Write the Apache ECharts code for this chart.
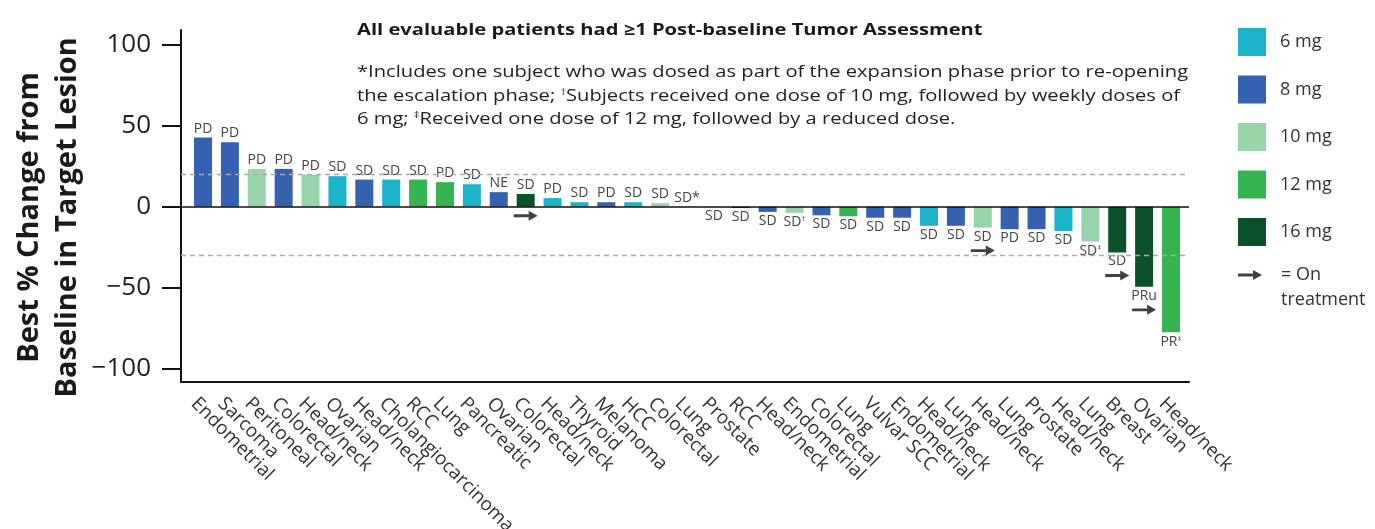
<!DOCTYPE html>
<html>
<head>
<meta charset="utf-8">
<script src="https://cdn.jsdelivr.net/npm/echarts@6/dist/echarts.min.js"></script>
<style>
html,body{margin:0;padding:0;background:#fff;}
#chart{width:1375px;height:529px;}
</style>
</head>
<body>
<div id="chart"></div>
<script>
const categories = ["Endometrial","Sarcoma","Peritoneal","Colorectal","Head/neck","Ovarian","Head/neck","Cholangiocarcinoma","RCC","Lung","Pancreatic","Ovarian","Colorectal","Head/neck","Thyroid","Melanoma","HCC","Colorectal","Lung","Prostate","RCC","Head/neck","Endometrial","Colorectal","Lung","Vulvar SCC","Endometrial","Head/neck","Lung","Head/neck","Lung","Prostate","Head/neck","Lung","Breast","Ovarian","Head/neck"];
const values = [42.8,39.9,23.4,23.4,19.9,18.9,16.8,16.8,16.8,15.2,13.9,9.0,7.9,5.3,2.8,2.8,2.8,2.2,0.1,-0.1,-0.8,-3.2,-3.8,-5.3,-5.9,-6.8,-6.8,-11.8,-11.8,-12.9,-13.9,-13.9,-15.0,-21.5,-28.3,-49.5,-77.6];
const doses = [8,8,10,8,10,6,8,6,12,12,6,8,16,6,6,8,6,10,8,8,16,8,10,8,12,8,8,6,8,10,8,8,6,10,16,16,12];
const statuses = ["PD","PD","PD","PD","PD","SD","SD","SD","SD","PD","SD","NE","SD","PD","SD","PD","SD","SD","SD*","SD","SD","SD","SD†","SD","SD","SD","SD","SD","SD","SD","PD","SD","SD","SD‡","SD","PRu","PR‡"];
const onTreatment = [12,29,34,35];
const doseLevels = [6,8,10,12,16];
const doseNames = ["6 mg","8 mg","10 mg","12 mg","16 mg"];
const doseColors = ["#1bb3c9","#3462b0","#98d4aa","#36b452","#0b522b"];
const yTicks = [-100,-50,0,50,100];
const refLines = [20,-30];

const FONT = "Open Sans";
const arrowPath = "path://M0,3.6 L15,3.6 L15,0 L24,5 L15,10 L15,6.4 L0,6.4 Z";

function fmtStatus(s){ return s.replace(/([†‡])/g, "{sup|$1}"); }

const chart = echarts.init(document.getElementById('chart'), null, {renderer:'canvas'});

const barSeries = doseLevels.map((d, k) => ({
  type: 'bar',
  name: doseNames[k],
  xAxisIndex: 1, yAxisIndex: 1,
  stack: 'all',
  barWidth: 18,
  itemStyle: { color: doseColors[k] },
  label: {
    show: true,
    distance: 2,
    fontFamily: FONT, fontSize: 14, color: '#444',
    formatter: p => fmtStatus(statuses[p.dataIndex]),
    rich: { sup: { fontFamily: FONT, fontSize: 8, color: '#444', padding: [0,0,7,0] } }
  },
  data: values.map((v, i) => doses[i] === d
    ? { value: v, label: { position: v >= 0 ? 'top' : 'bottom' } }
    : null)
}));

const option = {
  animation: false,
  textStyle: { fontFamily: FONT },
  grid: [
    { left: 181, right: 186, top: 30, bottom: 147.3, outerBoundsMode: 'none' },
    { left: 189.56, right: 190.56, top: 30, bottom: 147.3, outerBoundsMode: 'none' },
    { left: 180.56, right: 199.56, top: 30, bottom: 147.3, outerBoundsMode: 'none' }
  ],
  xAxis: [
    { type: 'value', gridIndex: 0, min: 0, max: 1, position: 'bottom',
      axisLine: { show: true, onZero: false, lineStyle: { color: '#111', width: 2 } },
      axisTick: { show: false }, axisLabel: { show: false }, splitLine: { show: false } },
    { type: 'category', gridIndex: 1, data: categories, position: 'bottom',
      axisLine: { show: false, onZero: false }, axisTick: { show: false }, axisLabel: { show: false } },
    { type: 'category', gridIndex: 2, data: categories, position: 'bottom',
      axisLine: { show: false, onZero: false }, axisTick: { show: false },
      axisLabel: { interval: 0, rotate: -45, margin: 19, fontFamily: FONT, fontSize: 19, color: '#333',
        padding: [54,0,0,0] } }
  ],
  yAxis: [
    { type: 'value', gridIndex: 0, min: -108.2, max: 109.3,
      name: 'Best % Change from\nBaseline in Target Lesion',
      nameLocation: 'middle', nameGap: 94, nameMoveOverlap: false,
      nameTextStyle: { fontFamily: FONT, fontSize: 29, fontWeight: 'bold', color: '#1a1a1a', lineHeight: 38, padding: [0,23,0,0] },
      axisLine: { show: true, onZero: false, lineStyle: { color: '#111', width: 2 } },
      axisTick: { show: true, length: 19, customValues: yTicks, lineStyle: { color: '#111', width: 2 } },
      axisLabel: { customValues: yTicks, margin: 30, fontFamily: FONT, fontSize: 26, color: '#222',
        formatter: v => String(v).replace('-', '\u2212') },
      splitLine: { show: false } },
    { type: 'value', gridIndex: 1, min: -108.2, max: 109.3, show: false,
      axisLine: { show: false }, splitLine: { show: false } },
    { type: 'value', gridIndex: 2, min: -108.2, max: 109.3, show: false,
      axisLine: { show: false }, splitLine: { show: false } }
  ],
  legend: [
    { data: doseNames, orient: 'vertical', left: 1238, top: 28, padding: 0, itemWidth: 28, itemHeight: 28, itemGap: 19.5,
      icon: 'rect', selectedMode: false,
      textStyle: { fontFamily: FONT, fontSize: 18, color: '#333', padding: [0,0,0,9] } },
    { data: ['On treatment'], orient: 'vertical', left: 1238, top: 237.5, padding: 0, itemWidth: 24, itemHeight: 10,
      selectedMode: false, formatter: () => ' \n= On\ntreatment',
      textStyle: { fontFamily: FONT, fontSize: 18, color: '#333', lineHeight: 25, padding: [0,0,0,14] } }
  ],
  graphic: [
    { type: 'text', x: 357, y: 22, scaleX: 1.258,
      style: { text: 'All evaluable patients had \u22651 Post-baseline Tumor Assessment',
        font: 'bold 16px "Open Sans"', fill: '#1a1a1a', textAlign: 'left', textVerticalAlign: 'top' } },
    { type: 'text', x: 357, y: 61, scaleX: 1.221,
      style: {
        text: '*Includes one subject who was dosed as part of the expansion phase prior to re-opening\nthe escalation phase; {sup|\u2020}Subjects received one dose of 10 mg, followed by weekly doses of\n6 mg; {sup|\u2021}Received one dose of 12 mg, followed by a reduced dose.',
        font: '16.5px "Open Sans"', fill: '#222', lineHeight: 23.5, textAlign: 'left', textVerticalAlign: 'top',
        rich: { sup: { font: '9px "Open Sans"', fill: '#222', padding: [0,0,8,0] } }
      } }
  ],
  series: [
    { type: 'line', name: 'ref', xAxisIndex: 0, yAxisIndex: 0, data: [], silent: true,
      markLine: { symbol: 'none', silent: true, label: { show: false },
        data: refLines.map(v => ({ yAxis: v, lineStyle: { color: '#aaaaaa', type: [5,4], width: 1.3 } }))
          .concat([{ yAxis: 0, lineStyle: { color: '#111', type: 'solid', width: 1.6 } }]) } },
    ...barSeries,
    { type: 'scatter', name: 'On treatment', xAxisIndex: 1, yAxisIndex: 1, z: 5,
      symbol: arrowPath, symbolSize: [24,10], itemStyle: { color: '#111' },
      data: onTreatment.map(i => ({ value: [i, Math.min(values[i], 0)], symbolOffset: [0, values[i] >= 0 ? 9 : 23] })) }
  ]
};
chart.setOption(option);
</script>
</body>
</html>
